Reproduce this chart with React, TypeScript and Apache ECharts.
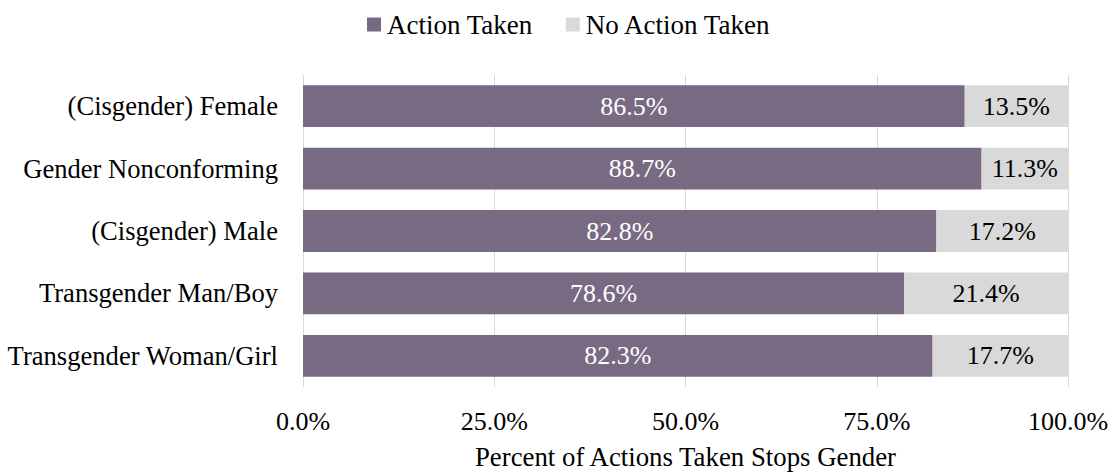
import React, { useEffect, useRef } from "react";
import * as echarts from "echarts";

const categories = [
  "(Cisgender) Female",
  "Gender Nonconforming",
  "(Cisgender) Male",
  "Transgender Man/Boy",
  "Transgender Woman/Girl",
];
const actionTaken = [86.5, 88.7, 82.8, 78.6, 82.3];
const noActionTaken = [13.5, 11.3, 17.2, 21.4, 17.7];
const seriesNames = ["Action Taken", "No Action Taken"];
const axisTitle = "Percent of Actions Taken Stops Gender";

const FONT = "Liberation Serif";

export default function App() {
  const ref = useRef<HTMLDivElement>(null);
  useEffect(() => {
    if (!ref.current) return;
    const chart = echarts.init(ref.current, undefined, { renderer: "svg" });
    chart.setOption({
      animation: false,
      textStyle: { fontFamily: FONT },
      legend: {
        top: 6,
        left: 362,
        itemWidth: 14,
        itemHeight: 14,
        itemGap: 33,
        icon: "rect",
        textStyle: { fontFamily: FONT, fontSize: 27, color: "#000", padding: [0, 0, 0, 1] },
        data: seriesNames,
      },
      grid: { left: 303, right: 45, top: 75, bottom: 87, containLabel: false },
      xAxis: {
        type: "value",
        min: 0,
        max: 100,
        interval: 25,
        axisLine: { show: false },
        axisTick: { show: false },
        splitLine: { show: true, lineStyle: { color: "#D9D9D9", width: 1 } },
        axisLabel: {
          fontFamily: FONT,
          fontSize: 26,
          color: "#000",
          margin: 21,
          formatter: (v: number) => v.toFixed(1) + "%",
        },
        name: axisTitle,
        nameLocation: "middle",
        nameGap: 56,
        nameTextStyle: { fontFamily: FONT, fontSize: 26.8, color: "#000" },
      },
      yAxis: {
        type: "category",
        data: categories,
        inverse: true,
        axisLine: { show: false },
        axisTick: { show: false },
        axisLabel: { fontFamily: FONT, fontSize: 26.6, color: "#000", margin: 25 },
      },
      series: [
        {
          name: seriesNames[0],
          type: "bar",
          stack: "total",
          data: actionTaken,
          barCategoryGap: "33%",
          itemStyle: { color: "#786A82" },
          label: {
            show: true,
            position: "inside",
            fontFamily: FONT,
            fontSize: 26,
            color: "#fff",
            formatter: (p: any) => Number(p.value).toFixed(1) + "%",
          },
        },
        {
          name: seriesNames[1],
          type: "bar",
          stack: "total",
          data: noActionTaken,
          barCategoryGap: "33%",
          itemStyle: { color: "#D9D9D9" },
          label: {
            show: true,
            position: "inside",
            fontFamily: FONT,
            fontSize: 26,
            color: "#000",
            formatter: (p: any) => Number(p.value).toFixed(1) + "%",
          },
        },
      ],
    });
    return () => chart.dispose();
  }, []);
  return (
    <div
      ref={ref}
      style={{ position: "absolute", left: 0, top: 0, width: 1113, height: 475 }}
    />
  );
}
